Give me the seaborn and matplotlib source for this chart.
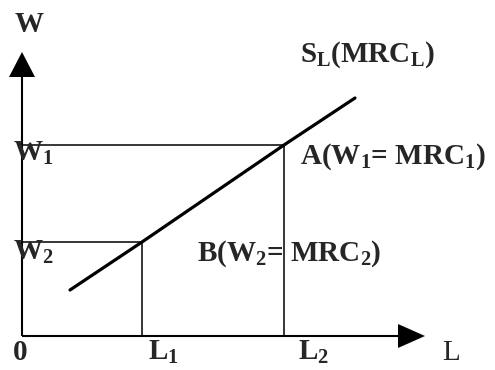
import matplotlib
matplotlib.use("Agg")
import matplotlib.pyplot as plt
import seaborn as sns
import pandas as pd

# Labour quantities and wage levels of the two equilibria
L_levels = [120, 262]          # L1, L2
W_levels = [191, 94]           # W1, W2
L_subs = ["1", "2"]
W_subs = ["1", "2"]

# Labour supply curve S_L (= MRC_L)
supply_L = [48, 120, 262, 333]
supply_W = [46, 94, 191, 238]

sns.set_style("white")
plt.rcParams["font.family"] = ["Liberation Serif", "DejaVu Serif"]
plt.rcParams["mathtext.fontset"] = "custom"
plt.rcParams["mathtext.rm"] = "Liberation Serif:bold"
plt.rcParams["mathtext.bf"] = "Liberation Serif:bold"
plt.rcParams["mathtext.it"] = "Liberation Serif:bold"

fig = plt.figure(figsize=(4.95, 3.70), dpi=100)
ax = fig.add_axes([0, 0, 1, 1])
ax.set_xlim(-22, 473)
ax.set_ylim(-34, 336)
ax.axis("off")

k = "black"
# axes with arrow heads
ax.plot([0, 376], [0, 0], color=k, lw=1.5, solid_capstyle="butt")
ax.plot([0, 0], [0, 259], color=k, lw=1.5, solid_capstyle="butt")
ax.fill([376, 403, 376], [12, 0, -12], color=k, lw=0)
ax.fill([-13, 0, 13], [259, 284, 259], color=k, lw=0)

# guide lines from axes to the curve
L1, L2 = L_levels
W1, W2 = W_levels
ax.plot([0, L2], [W1, W1], color=k, lw=1.1)
ax.plot([L2, L2], [0, W1], color=k, lw=1.1)
ax.plot([0, L1], [W2, W2], color=k, lw=1.1)
ax.plot([L1, L1], [0, W2], color=k, lw=1.1)

df = pd.DataFrame({"L": supply_L, "W": supply_W})
sns.lineplot(data=df, x="L", y="W", ax=ax, color=k, lw=2.3, sort=False)

fs = 21
bold = dict(fontsize=fs, fontweight="bold", va="baseline")
ax.text(-7, 304, "W", ha="left", **bold)
ax.text(429, -24, "L", fontsize=fs, ha="center", va="baseline")
ax.text(-2, -24, "0", ha="center", **bold)
for x, s, dx in zip(L_levels, L_subs, [6, 14]):
    ax.text(x + dx, -24, "L$_{%s}$" % s, ha="left", **bold)
for y, s, dy in zip(W_levels, W_subs, [16, 18]):
    ax.text(-9, y - dy, "W$_{%s}$" % s, ha="left", **bold)

ax.text(278, 274, r"S$_{L}$(MRC$_{L}$)", ha="left", **bold)
ax.text(L2 + 16, W1 - 19, r"A(W$_{1}$= MRC$_{1}$)", ha="left", **bold)
ax.text(L2 - 87, W2 - 19, r"B(W$_{2}$= MRC$_{2}$)", ha="left", **bold)

fig.savefig("out.png", dpi=100)
